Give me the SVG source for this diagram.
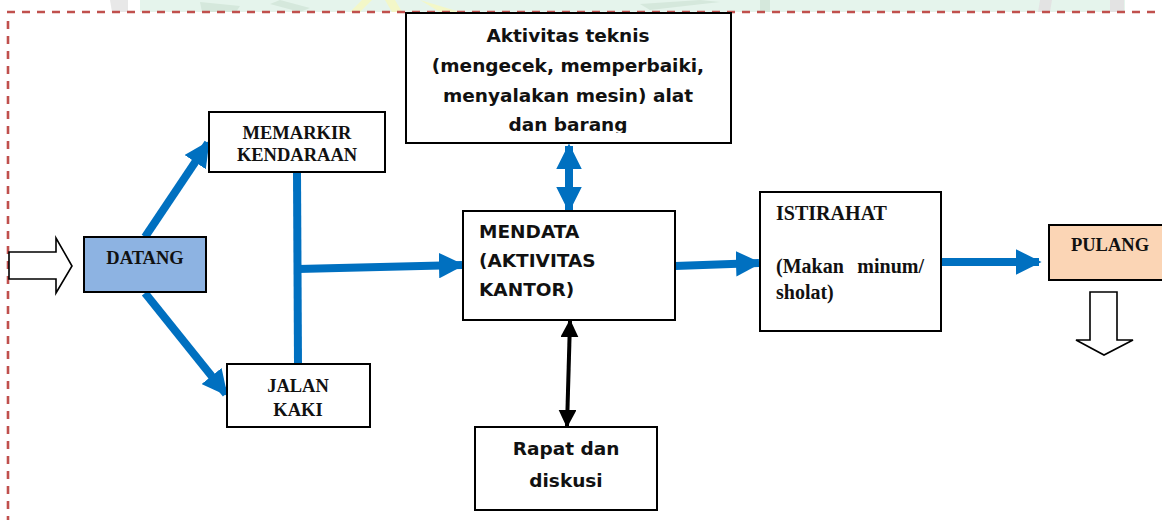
<svg xmlns="http://www.w3.org/2000/svg" width="1162" height="520" viewBox="0 0 1162 520">
  <defs>
    <style>
      .box { fill: #ffffff; stroke: #000000; stroke-width: 2; }
      .serif { font-family: "Liberation Serif", "Times New Roman", serif; font-weight: bold; font-size: 18.5px; fill: #111111; }
      .serif-lg { font-family: "Liberation Serif", "Times New Roman", serif; font-weight: bold; font-size: 20px; fill: #111111; }
      .sans { font-family: "DejaVu Sans", "Noto Sans", sans-serif; font-weight: bold; font-size: 18.5px; fill: #111111; }
      .flow { stroke: #0070c0; stroke-width: 8; fill: none; }
      .hollow { fill: #ffffff; stroke: #000000; stroke-width: 1.6; stroke-linejoin: miter; }
      .frame { stroke: #c0504d; stroke-width: 2.6; stroke-dasharray: 8 7; fill: none; }
    </style>
    <marker id="blueHead" viewBox="0 0 10 10" refX="9" refY="5" markerWidth="3.2" markerHeight="3.2" orient="auto-start-reverse" markerUnits="strokeWidth">
      <path d="M0,0 L10,5 L0,10 Z" fill="#0070c0"/>
    </marker>
    <marker id="blackHead" viewBox="0 0 10 10" refX="9" refY="5" markerWidth="4.5" markerHeight="4.5" orient="auto-start-reverse" markerUnits="strokeWidth">
      <path d="M0,0 L10,5 L0,10 Z" fill="#000000"/>
    </marker>
  </defs>

  <!-- faint letterhead band along the top edge -->
  <g id="band">
    <rect x="0" y="0" width="1162" height="12" fill="#ffffff"/>
    <rect x="140" y="0" width="985" height="12" fill="#e5f4ec"/>
    <polygon points="110,0 128,0 128,12 112,12" fill="#e8e8e8"/>
    <polygon points="200,2 240,6 236,12 202,12" fill="#d5e8dc"/>
    <polygon points="280,0 310,8 300,12 270,4" fill="#d5e8dc"/>
    <polygon points="350,12 362,0 372,0 360,12" fill="#f3f7c8"/>
    <polygon points="385,0 395,0 402,12 392,12" fill="#f3f7c8"/>
    <polygon points="420,0 460,12 440,12" fill="#f3f7c8"/>
    <polygon points="640,4 700,0 720,2 650,10" fill="#d5e8dc"/>
    <polygon points="760,0 770,0 770,12 760,12" fill="#d5e8dc"/>
    <polygon points="1040,0 1052,0 1050,12 1038,12" fill="#e3e3e3"/>
    <polygon points="1110,0 1124,0 1124,12 1110,12" fill="#e3e3e3"/>
  </g>

  <!-- dashed page frame -->
  <g id="frame">
    <line class="frame" x1="7" y1="12" x2="1162" y2="12"/>
    <line class="frame" x1="8" y1="21" x2="8" y2="520"/>
  </g>

  <!-- connectors -->
  <g id="connectors">
    <!-- entry and exit hollow arrows -->
    <polygon class="hollow" points="9,252 56,252 56,238 72,266 56,293 56,279 9,279"/>
    <polygon class="hollow" points="1090,292 1117,292 1117,340 1133,340 1104,355 1076,340 1090,340"/>
    <!-- DATANG branches -->
    <line class="flow" x1="145" y1="237" x2="208" y2="143" marker-end="url(#blueHead)"/>
    <line class="flow" x1="145" y1="293" x2="226" y2="394" marker-end="url(#blueHead)"/>
    <!-- merge bar -->
    <line class="flow" x1="297" y1="173" x2="298" y2="364"/>
    <line class="flow" x1="298" y1="269" x2="462" y2="265" marker-end="url(#blueHead)"/>
    <!-- MENDATA links -->
    <line class="flow" x1="569" y1="146" x2="569" y2="210" marker-start="url(#blueHead)" marker-end="url(#blueHead)"/>
    <line x1="570" y1="321" x2="567" y2="426" stroke="#000000" stroke-width="4" marker-start="url(#blackHead)" marker-end="url(#blackHead)"/>
    <line class="flow" x1="675" y1="266" x2="759" y2="263" marker-end="url(#blueHead)"/>
    <line class="flow" x1="941" y1="262" x2="1039" y2="262" marker-end="url(#blueHead)"/>
  </g>

  <g id="aktivitas-teknis">
    <rect class="box" x="406" y="13" width="325" height="130"/>
    <svg x="406" y="13" width="325" height="120" overflow="hidden">
      <text class="sans" text-anchor="middle" x="162" y="29">Aktivitas teknis</text>
      <text class="sans" text-anchor="middle" x="162" y="59">(mengecek, memperbaiki,</text>
      <text class="sans" text-anchor="middle" x="162" y="89">menyalakan mesin) alat</text>
      <text class="sans" text-anchor="middle" x="162" y="118">dan barang</text>
    </svg>
  </g>

  <g id="memarkir">
    <rect class="box" x="209" y="112" width="176" height="60"/>
    <text class="serif" text-anchor="middle" x="297" y="139">MEMARKIR</text>
    <text class="serif" text-anchor="middle" x="297" y="161">KENDARAAN</text>
  </g>

  <g id="datang">
    <rect class="box" x="84" y="237" width="122" height="55" style="fill:#8db3e2"/>
    <text class="serif" text-anchor="middle" x="145" y="264">DATANG</text>
  </g>

  <g id="jalan-kaki">
    <rect class="box" x="227" y="364" width="143" height="63"/>
    <text class="serif" text-anchor="middle" x="298" y="392">JALAN</text>
    <text class="serif" text-anchor="middle" x="298" y="416">KAKI</text>
  </g>

  <g id="mendata">
    <rect class="box" x="463" y="211" width="212" height="109"/>
    <text class="sans" x="479" y="238">MENDATA</text>
    <text class="sans" x="479" y="267">(AKTIVITAS</text>
    <text class="sans" x="479" y="296">KANTOR)</text>
  </g>

  <g id="rapat">
    <rect class="box" x="475" y="427" width="182" height="83"/>
    <text class="sans" text-anchor="middle" x="566" y="455">Rapat dan</text>
    <text class="sans" text-anchor="middle" x="566" y="487">diskusi</text>
  </g>

  <g id="istirahat">
    <rect class="box" x="760" y="192" width="181" height="139"/>
    <text class="serif-lg" x="776" y="220" textLength="111" lengthAdjust="spacingAndGlyphs">ISTIRAHAT</text>
    <text class="serif-lg" x="776" y="273">(Makan</text>
    <text class="serif-lg" x="924" y="273" text-anchor="end">minum/</text>
    <text class="serif-lg" x="776" y="299">sholat)</text>
  </g>

  <g id="pulang">
    <rect class="box" x="1049" y="225" width="120" height="55" style="fill:#fbd5b5"/>
    <text class="serif" text-anchor="middle" x="1110" y="251">PULANG</text>
  </g>
</svg>
